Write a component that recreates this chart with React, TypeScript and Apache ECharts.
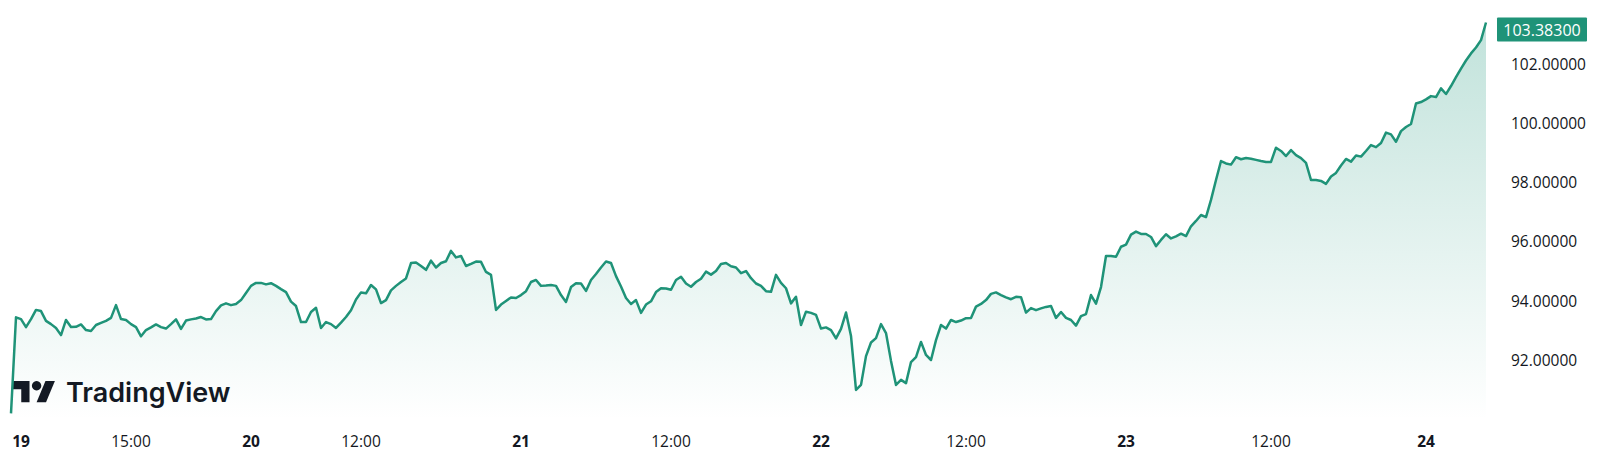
import React, { useEffect, useRef } from "react";
import * as echarts from "echarts";

// Price trace (one point every ~5 px of the time axis)
const pricesDay19 = [
  90.2, 93.44, 93.38, 93.11, 93.38, 93.69, 93.65, 93.32, 93.21, 93.08,
  92.84, 93.35, 93.11, 93.12, 93.2, 93.01, 92.98, 93.18, 93.25, 93.32,
  93.42, 93.85, 93.38, 93.35, 93.21, 93.11, 92.8, 93.01, 93.1, 93.2,
  93.11, 93.06, 93.21, 93.37, 93.05, 93.33, 93.37, 93.4, 93.45, 93.37,
  93.38, 93.65, 93.84, 93.91, 93.85, 93.89, 94.02, 94.26, 94.5, 94.6,
];
const pricesDay20 = [
  94.6, 94.55, 94.59, 94.5, 94.39, 94.29, 93.97, 93.82, 93.28, 93.28,
  93.62, 93.76, 93.08, 93.28, 93.21, 93.08, 93.26, 93.45, 93.68, 94.04,
  94.28, 94.25, 94.53, 94.38, 93.92, 94.02, 94.35, 94.5, 94.63, 94.75,
  95.27, 95.29, 95.17, 95.04, 95.35, 95.12, 95.27, 95.33, 95.68, 95.46,
  95.51, 95.17, 95.24, 95.32, 95.31, 94.97, 94.87, 93.69, 93.87, 93.99,
];
const pricesDay21 = [
  94.11, 94.09, 94.19, 94.32, 94.63, 94.7, 94.5, 94.51, 94.53, 94.5,
  94.19, 93.96, 94.46, 94.59, 94.58, 94.33, 94.7, 94.9, 95.12, 95.32,
  95.27, 94.83, 94.48, 94.09, 93.89, 94.02, 93.59, 93.87, 93.98, 94.29,
  94.42, 94.41, 94.37, 94.7, 94.81, 94.58, 94.47, 94.63, 94.74, 94.98,
  94.88, 95.0, 95.24, 95.27, 95.16, 95.12, 94.93, 95.0, 94.76, 94.58,
];
const pricesDay22 = [
  94.5, 94.32, 94.3, 94.87, 94.6, 94.42, 93.91, 94.13, 93.18, 93.63,
  93.59, 93.52, 93.06, 93.1, 93.01, 92.73, 93.05, 93.6, 92.81, 90.99,
  91.16, 92.13, 92.59, 92.74, 93.21, 92.91, 91.97, 91.16, 91.33, 91.22,
  91.93, 92.1, 92.61, 92.17, 92.0, 92.67, 93.18, 93.06, 93.35, 93.28,
  93.33, 93.41, 93.42, 93.8, 93.89, 94.02, 94.23, 94.28, 94.19, 94.11,
];
const pricesDay23 = [
  94.05, 94.13, 94.12, 93.6, 93.75, 93.68, 93.74, 93.79, 93.82, 93.42,
  93.62, 93.42, 93.35, 93.16, 93.48, 93.55, 94.19, 93.9, 94.46, 95.51,
  95.51, 95.48, 95.82, 95.89, 96.23, 96.33, 96.25, 96.25, 96.15, 95.84,
  96.05, 96.24, 96.1, 96.17, 96.26, 96.18, 96.51, 96.69, 96.89, 96.82,
  97.4, 98.07, 98.71, 98.63, 98.59, 98.84, 98.77, 98.81, 98.79, 98.75,
];
const pricesDay24 = [
  98.71, 98.68, 98.68, 99.16, 99.05, 98.88, 99.08, 98.91, 98.81, 98.65,
  98.07, 98.07, 98.04, 97.94, 98.19, 98.31, 98.56, 98.78, 98.69, 98.9,
  98.86, 99.05, 99.25, 99.18, 99.32, 99.67, 99.61, 99.36, 99.72, 99.86,
  99.96, 100.65, 100.7, 100.79, 100.9, 100.87, 101.16, 100.97, 101.24, 101.54,
  101.83, 102.1, 102.34, 102.54, 102.79, 103.383,
];

const prices = [
  ...pricesDay19,
  ...pricesDay20,
  ...pricesDay21,
  ...pricesDay22,
  ...pricesDay23,
  ...pricesDay24,
];
const categories = prices.map((_, i) => String(i));

const tickLabels = ["19", "15:00", "20", "12:00", "21", "12:00", "22", "12:00", "23", "12:00", "24"];
const tickIndices = [2, 24, 48, 70, 102, 132, 162, 191, 223, 252, 283];
const dayLabels = ["19", "20", "21", "22", "23", "24"];

const yMin = 90;
const yMax = 104;
const yStep = 2;

const GREEN = "#1f9378";
const TEXT = "#131722";
const FONT = "'Open Sans', 'Noto Sans', sans-serif";

export default function App() {
  const ref = useRef<HTMLDivElement>(null);

  useEffect(() => {
    document.body.style.margin = "0";
    const chart = echarts.init(ref.current!, null, { renderer: "svg" });
    const labelMap = new Map<number, string>(tickIndices.map((k, j) => [k, tickLabels[j]]));

    const option: any = {
      animation: false,
      backgroundColor: "#ffffff",
      grid: { left: 11, right: 114, top: 4.2, bottom: 51.7, containLabel: false },
      xAxis: {
        type: "category",
        data: categories,
        boundaryGap: false,
        axisLine: { show: false },
        axisTick: { show: false },
        splitLine: { show: false },
        axisLabel: {
          interval: (idx: number) => labelMap.has(idx),
          formatter: (_v: string, idx: number) => {
            const t = labelMap.get(idx) ?? "";
            return dayLabels.includes(t) ? `{d|${t}}` : `{t|${t}}`;
          },
          margin: 14,
          rich: {
            d: { fontFamily: FONT, fontSize: 15.5, fontWeight: 700, color: TEXT },
            t: { fontFamily: FONT, fontSize: 15.5, fontWeight: 400, color: TEXT },
          },
        },
      },
      yAxis: {
        type: "value",
        position: "right",
        min: yMin,
        max: yMax,
        interval: yStep,
        axisLine: { show: false },
        axisTick: { show: false },
        splitLine: { show: false },
        axisLabel: {
          showMinLabel: false,
          showMaxLabel: false,
          margin: 25,
          fontFamily: FONT,
          fontSize: 15.5,
          color: TEXT,
          formatter: (v: number) => v.toFixed(5),
        },
      },
      series: [
        {
          type: "line",
          data: prices,
          symbol: "none",
          silent: true,
          lineStyle: { color: GREEN, width: 2.5, join: "round" },
          areaStyle: {
            color: new echarts.graphic.LinearGradient(0, 0, 0, 1, [
              { offset: 0, color: "rgba(34,153,126,0.40)" },
              { offset: 1, color: "rgba(34,153,126,0.0)" },
            ]),
          },
        },
      ],
    };
    chart.setOption(option);

    const lastIdx = prices.length - 1;
    const last = prices[lastIdx];
    const [px, py] = chart.convertToPixel({ gridIndex: 0 }, [categories[lastIdx], last]) as number[];

    chart.setOption({
      graphic: [
        {
          type: "group",
          x: 13,
          y: 376.3,
          scaleX: 1.18,
          scaleY: 1.18,
          silent: true,
          children: [
            {
              type: "polygon",
              shape: { points: [[0, 4], [14, 4], [14, 22], [7, 22], [7, 11], [0, 11]] },
              style: { fill: TEXT },
            },
            {
              type: "polygon",
              shape: { points: [[20, 22], [27.5, 4], [35.5, 4], [28, 22]] },
              style: { fill: TEXT },
            },
            { type: "circle", shape: { cx: 20, cy: 8, r: 4 }, style: { fill: TEXT } },
          ],
        },
        {
          type: "text",
          x: 66,
          y: 392,
          silent: true,
          style: {
            text: "TradingView",
            fill: TEXT,
            font: "600 27px Inter, 'Open Sans', sans-serif",
            verticalAlign: "middle",
            align: "left",
          },
        },
        {
          type: "group",
          x: px + 11,
          y: py + 7 - 12,
          silent: true,
          children: [
            { type: "rect", shape: { x: 0, y: 0, width: 90, height: 24, r: 1 }, style: { fill: GREEN } },
            {
              type: "text",
              x: 45,
              y: 12.5,
              style: {
                text: last.toFixed(5),
                fill: "#ffffff",
                font: `16px ${FONT}`,
                align: "center",
                verticalAlign: "middle",
              },
            },
          ],
        },
      ],
    });

    return () => chart.dispose();
  }, []);

  return (
    <div
      ref={ref}
      style={{ position: "absolute", left: 0, top: 0, width: 1600, height: 471 }}
    />
  );
}
